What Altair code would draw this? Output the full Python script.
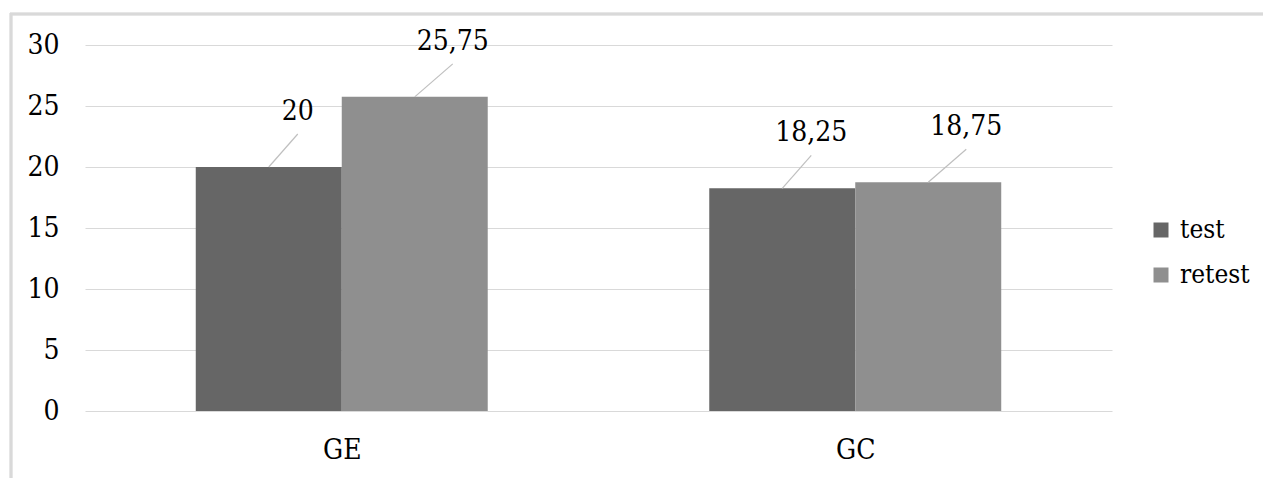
import altair as alt
import pandas as pd

# ---- data ----
categories = ["GE", "GC"]
series = ["test", "retest"]
test_values = [20, 18.25]
retest_values = [25.75, 18.75]
y_ticks = [0, 5, 10, 15, 20, 25, 30]

# ---- layout / style ----
FONT = "DejaVu Serif Condensed, DejaVu Serif"
FS = 28
LEG_FS = 26
colors = ["#666666", "#8f8f8f"]
bar_w = 0.2843          # bar width as fraction of category step
label_dx = {"test": 29, "retest": 38}
label_dy = -55
line_dy = -33

rows = []
for ci, cat in enumerate(categories):
    for si, (s, vals) in enumerate(zip(series, [test_values, retest_values])):
        rows.append({"category": cat, "series": s, "value": vals[ci],
                     "ci": ci, "si": si})
df = pd.DataFrame(rows)

W, H = 1027, 366
base = alt.Chart(df).transform_calculate(
    left=f"datum.ci + 0.5 + (datum.si - 1) * {bar_w}",
    right=f"datum.ci + 0.5 + datum.si * {bar_w}",
    center=f"datum.ci + 0.5 + (datum.si - 0.5) * {bar_w}",
    label="replace(toString(datum.value), '.', ',')",
)

xscale = alt.Scale(domain=[0, 2], nice=False, zero=False)
yscale = alt.Scale(domain=[0, 30], nice=False)

label_expr = "datum.value < 1 ? 'GE' : 'GC'"

bars = base.mark_bar().encode(
    x=alt.X("left:Q", scale=xscale,
            axis=alt.Axis(values=[0.5, 1.5], labelExpr=label_expr, title=None,
                          grid=False, ticks=False, domain=False,
                          labelFont=FONT, labelFontSize=FS, labelColor="#000000",
                          labelPadding=25)),
    x2="right:Q",
    y=alt.Y("value:Q", scale=yscale,
            axis=alt.Axis(values=y_ticks, title=None, grid=True, gridColor="#d9d9d9",
                          ticks=False, domain=False, labelFont=FONT, labelFontSize=FS,
                          labelColor="#000000", labelPadding=26)),
    y2=alt.datum(0),
    color=alt.Color("series:N", scale=alt.Scale(domain=series, range=colors),
                    sort=series,
                    legend=alt.Legend(title=None, orient="none", legendX=1063, legendY=172,
                                      symbolType="square", symbolSize=225,
                                      symbolStrokeWidth=0,
                                      labelFont=FONT, labelFontSize=LEG_FS, labelColor="#000000",
                                      rowPadding=19, labelOffset=6, padding=0)),
)

layers = [bars]
for s in series:
    sub = base.transform_filter(f"datum.series == '{s}'")
    rule = sub.mark_rule(color="#bfbfbf", strokeWidth=1.2,
                         x2Offset=label_dx[s], y2Offset=line_dy).encode(
        x=alt.X("center:Q", scale=xscale),
        x2="center:Q",
        y=alt.Y("value:Q", scale=yscale),
        y2="value:Q",
    )
    text = sub.mark_text(font=FONT, fontSize=FS, color="#000000", align="center",
                         baseline="middle", dx=label_dx[s], dy=label_dy).encode(
        x=alt.X("center:Q", scale=xscale),
        y=alt.Y("value:Q", scale=yscale),
        text="label:N",
    )
    layers += [rule, text]

frame_left = alt.Chart(df).mark_rule(color="#d9d9d9", strokeWidth=2.5).encode(
    x=alt.value(-74), y=alt.value(-32), y2=alt.value(H + 80))
frame_top = alt.Chart(df).mark_rule(color="#d9d9d9", strokeWidth=2.5).encode(
    x=alt.value(-75), x2=alt.value(W + 200), y=alt.value(-31))
layers += [frame_left, frame_top]

chart = alt.layer(*layers).properties(
    width=W, height=H,
    background="#ffffff",
    autosize=alt.AutoSizeParams(type="none"),
    padding={"left": 85, "top": 45, "right": 151, "bottom": 67},
).configure_view(strokeWidth=0)

chart.save("out.html", embed_options={"renderer": "svg", "actions": False})
